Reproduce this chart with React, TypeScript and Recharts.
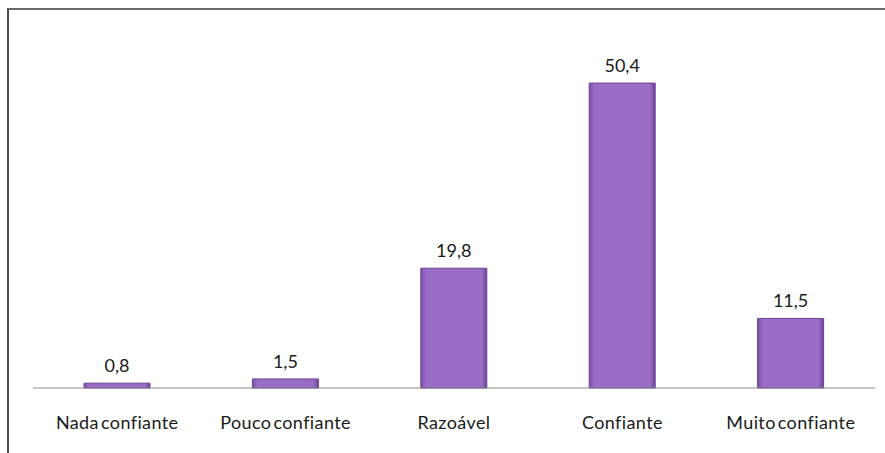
import { BarChart, Bar, XAxis, YAxis, LabelList } from 'recharts';

const categories = ['Nada confiante', 'Pouco confiante', 'Razoável', 'Confiante', 'Muito confiante'];
const values = [0.8, 1.5, 19.8, 50.4, 11.5];

const data = categories.map((name, i) => ({ name, value: values[i] }));

const FONT = 'Lato, "Open Sans", sans-serif';

const CategoryTick = (props: any) => {
  const { x, y, payload } = props;
  return (
    <text
      x={x}
      y={y + 33}
      textAnchor="middle"
      fill="#1a1a1a"
      fontSize={18}
      fontFamily={FONT}
      style={{ letterSpacing: 0.4, wordSpacing: -3 }}
    >
      {payload.value}
    </text>
  );
};

export default function App() {
  return (
    <div style={{ position: 'absolute', left: 0, top: 0, width: 885, height: 453, overflow: 'hidden', background: '#fff' }}>
      <div
        style={{
          position: 'absolute',
          left: 7,
          top: 8,
          width: 900,
          height: 470,
          borderLeft: '2px solid #4a4a4a',
          borderTop: '2px solid #6a6a6a',
        }}
      />
      <div style={{ position: 'absolute', left: 0, top: 0 }}>
        <BarChart width={885} height={453} data={data} margin={{ top: 25, right: 10, left: 33, bottom: 35 }}>
          <defs>
            <linearGradient id="barFill" x1="0" y1="0" x2="1" y2="0">
              <stop offset="0%" stopColor="#7a4ea8" />
              <stop offset="8%" stopColor="#9a6ec6" />
              <stop offset="92%" stopColor="#9a6ec6" />
              <stop offset="100%" stopColor="#6e4299" />
            </linearGradient>
          </defs>
          <XAxis
            dataKey="name"
            height={30}
            axisLine={{ stroke: '#8a8a8a', strokeWidth: 1 }}
            tickLine={false}
            interval={0}
            tick={<CategoryTick />}
          />
          <YAxis hide domain={[0, 60]} />
          <Bar dataKey="value" barSize={66} fill="url(#barFill)" stroke="#6a4295" strokeWidth={1} isAnimationActive={false}>
            <LabelList
              dataKey="value"
              position="top"
              offset={11}
              formatter={(v: any) => String(v).replace('.', ',')}
              style={{ fill: '#1a1a1a', fontSize: 18, fontFamily: FONT }}
            />
          </Bar>
        </BarChart>
      </div>
    </div>
  );
}
